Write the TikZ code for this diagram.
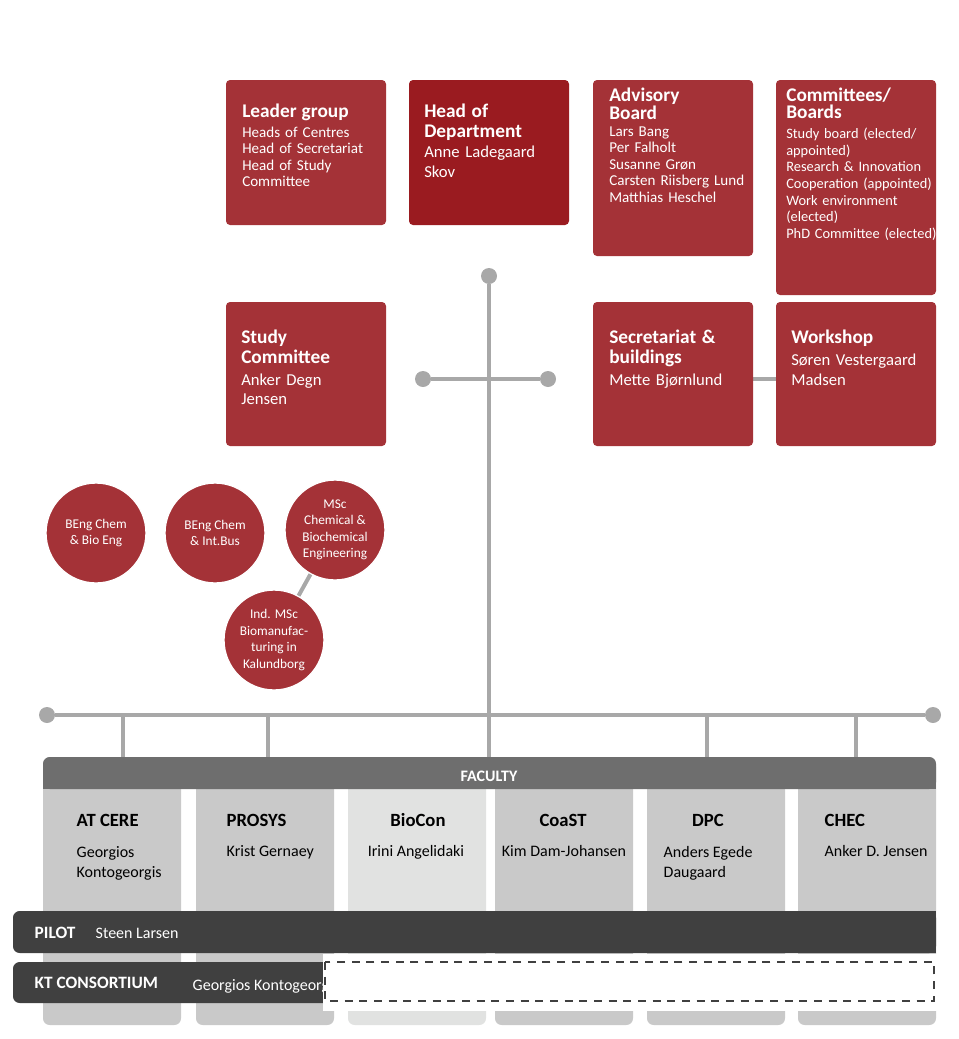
\documentclass[tikz,border=0pt]{standalone}
\usepackage{fontspec}
\setmainfont{Carlito}
\usetikzlibrary{positioning}
\definecolor{dtured}{HTML}{A43237}
\definecolor{dtudark}{HTML}{9A1B20}
\definecolor{linegray}{HTML}{A8A8A8}
\definecolor{colgray}{HTML}{C9C9C9}
\definecolor{collight}{HTML}{E1E2E1}
\definecolor{facgray}{HTML}{6E6E6E}
\definecolor{bargray}{HTML}{404040}
\tikzset{
  box/.style={text=white,align=left,anchor=north west,
    inner sep=0pt,text width=120pt,font=\fontsize{11.3}{12.4}\selectfont},
  circ/.style={circle,fill=dtured,draw=white,line width=1pt,minimum size=75pt,inner sep=0pt,
    text=white,align=center,font=\fontsize{10}{12.3}\selectfont},
  dot/.style={circle,fill=linegray,inner sep=0pt,minimum size=12pt},
  conn/.style={linegray,line width=3pt},
  coltitle/.style={font=\bfseries\fontsize{14}{16}\selectfont,anchor=base west},
  colname/.style={font=\fontsize{12}{14.5}\selectfont,align=left,anchor=base west},
}
\newcommand{\hd}[1]{{\bfseries\fontsize{14.5}{17}\selectfont #1}}
\begin{document}
\begin{tikzpicture}[x=0.75pt,y=-0.75pt]
\useasboundingbox (0,0) rectangle (958,1039);
% top row
\fill[dtured,rounded corners=3pt] (226,80) rectangle (386,225);
\fill[dtudark,rounded corners=3pt] (409,80) rectangle (569,225);
\fill[dtured,rounded corners=3pt] (593,80) rectangle (753,256);
\fill[dtured,rounded corners=3pt] (776,80) rectangle (936,295);
\node[box] (leader) at (242,104) {\hd{Leader group}\\[2pt]Heads of Centres\\Head of Secretariat\\Head of Study\\Committee};
\node[box,font=\fontsize{12.5}{14.5}\selectfont] (head) at (424,104) {\hd{Head of\\Department}\\[1pt]Anne Ladegaard\\Skov};
\node[box] (advisory) at (609,88) {\hd{Advisory\\Board}\\Lars Bang\\Per Falholt\\Susanne Grøn\\Carsten Riisberg Lund\\Matthias Heschel};
\node[box,font=\fontsize{10.8}{12.4}\selectfont] (committees) at (786,88) {\hd{Committees/\\Boards}\\[3pt]Study board (elected/\\appointed)\\Research \& Innovation\\Cooperation (appointed)\\Work environment\\(elected)\\PhD Committee (elected)};
% second row
\draw[conn] (753,379) -- (776,379);
\fill[dtured,rounded corners=3pt] (226,302) rectangle (386,446);
\fill[dtured,rounded corners=3pt] (593,302) rectangle (753,446);
\fill[dtured,rounded corners=3pt] (776,302) rectangle (936,446);
\node[box,font=\fontsize{12.5}{14.5}\selectfont] (study) at (241,330) {\hd{Study\\Committee}\\[2pt]Anker Degn\\Jensen};
\node[box,font=\fontsize{12.5}{14.5}\selectfont] (secretariat) at (609,330) {\hd{Secretariat \&\\buildings}\\[2pt]Mette Bjørnlund};
\node[box,font=\fontsize{12.5}{14.5}\selectfont] (workshop) at (791,330) {\hd{Workshop}\\[2pt]Søren Vestergaard\\Madsen};
% spine
\node[dot] (top) at (489,276) {};
\node[dot] (left) at (423,379) {};
\node[dot] (right) at (548,379) {};
\coordinate (fac) at (489,757);
\draw[conn] (top) -- (fac);
\draw[conn] (left) -- (right);
% circles
\node[circ] (mscind) at (274,640) {Ind. MSc\\Biomanufac-\\turing in\\Kalundborg};
\node[circ] (msc) at (335,530) {MSc\\Chemical \&\\Biochemical\\Engineering};
\draw[conn] (msc) -- (mscind);
\node[circ] (bengbio) at (96,533) {BEng Chem\\\& Bio Eng};
\node[circ] (bengbus) at (215,533) {BEng Chem\\\& Int.Bus};
% faculty
\node[dot] (fl) at (47,715) {};
\node[dot] (fr) at (933,715) {};
\draw[conn] (fl) -- (fr);
\foreach \x in {123,268,707,856} \draw[conn] (\x,715) -- (\x,757);
\foreach \a/\b in {43/181,196/334,495/633,647/785,798/936}
  \fill[colgray,rounded corners=5pt] (\a,760) rectangle (\b,1025);
\fill[collight,rounded corners=5pt] (348,760) rectangle (486,1025);
\fill[facgray,rounded corners=5pt] (43,757) rectangle (936,789);
\fill[facgray] (43,775) rectangle (936,789);
\node[text=white,font=\bfseries\fontsize{12}{14}\selectfont] (faculty) at (489,776) {FACULTY};
\node[coltitle] (atcere) at (72,826) {AT CERE};
\node[colname,anchor=north west] at (72,842) {Georgios\\Kontogeorgis};
\node[coltitle] (prosys) at (222,826) {PROSYS};
\node[colname] at (222,856) {Krist Gernaey};
\node[coltitle,anchor=base] (biocon) at (418,826) {BioCon};
\node[colname,anchor=base] at (416,856) {Irini Angelidaki};
\node[coltitle,anchor=base] (coast) at (563,826) {CoaST};
\node[colname,anchor=base] at (564,856) {Kim Dam-Johansen};
\node[coltitle,anchor=base] (dpc) at (708,826) {DPC};
\node[colname,anchor=north west] at (659,842) {Anders Egede\\Daugaard};
\node[coltitle] (chec) at (820,826) {CHEC};
\node[colname] at (820,856) {Anker D. Jensen};
% pilot and kt
\fill[bargray,rounded corners=5pt] (13,911) rectangle (936,953);
\fill[bargray] (900,911) rectangle (936,953);
\fill[bargray,rounded corners=5pt] (13,962) rectangle (340,1003);
\node[text=white,font=\bfseries\fontsize{13}{15}\selectfont,anchor=base west] (pilot) at (30,938) {PILOT};
\node[text=white,font=\fontsize{12}{14}\selectfont,anchor=base west] at (91,938) {Steen Larsen};
\node[text=white,font=\bfseries\fontsize{13}{15}\selectfont,anchor=base west] (kt) at (30,988) {KT CONSORTIUM};
\node[text=white,font=\fontsize{12}{14}\selectfont,anchor=base west] at (188,990) {Georgios Kontogeorgis};
\fill[white] (323,954) rectangle (958,1011);
\draw[bargray,line width=1pt,dash pattern=on 6pt off 5pt] (325,962) rectangle (934,1001);
\end{tikzpicture}
\end{document}
